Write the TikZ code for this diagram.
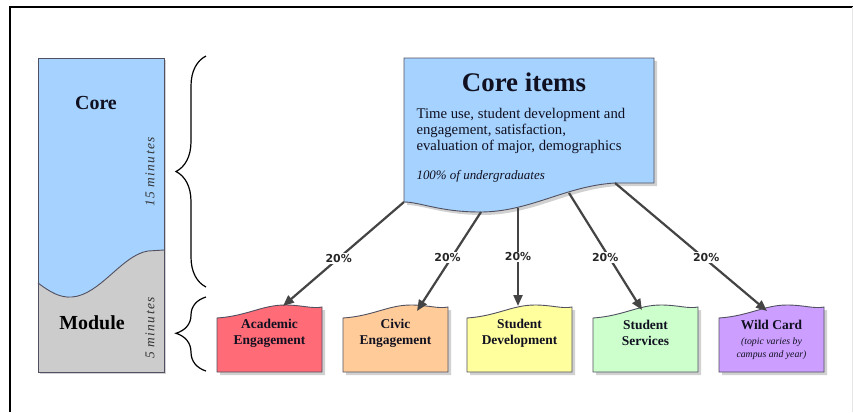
\documentclass[tikz,border=0pt]{standalone}
\usepackage{fontspec}
\setmainfont{Liberation Serif}
\newfontfamily\pctfont{DejaVu Sans}
\newfontfamily\spacedfont[LetterSpace=10]{Liberation Serif}
\usetikzlibrary{arrows.meta,decorations.pathreplacing}
\definecolor{coreblue}{HTML}{A6D2FF}
\definecolor{modgrey}{HTML}{CCCCCC}
\definecolor{acared}{HTML}{FF6B76}
\definecolor{civorange}{HTML}{FFCC99}
\definecolor{devyellow}{HTML}{FFFF9E}
\definecolor{srvgreen}{HTML}{CCFFCC}
\definecolor{wildpurple}{HTML}{CC9EFF}
\definecolor{edgegrey}{HTML}{505060}
\definecolor{arrowgrey}{HTML}{444444}
\definecolor{inkblue}{HTML}{101020}
\tikzset{
  shapeedge/.style={draw=edgegrey, line width=0.9bp},
  shadowfill/.style={fill=black, opacity=0.18},
  flowarrow/.style={draw=arrowgrey, line width=2.2bp, -{Triangle[length=11bp,width=9bp]}},
  pct/.style={fill=white, inner sep=1.2bp, font=\pctfont\bfseries\fontsize{11}{13}\selectfont, text=black!85},
  modtext/.style={align=center, font=\bfseries\fontsize{13.5}{16}\selectfont, text=inkblue},
  minutetext/.style={rotate=90, font=\spacedfont\itshape\fontsize{13.5}{15}\selectfont, text=black!80},
  bracestyle/.style={draw=black, line width=1.2bp, decorate, decoration={brace, amplitude=30bp, aspect=#1}},
}
\newcommand\modshape[1]{(#1,318) .. controls (#1+30,316) and (#1+45,305) .. (#1+68,305) .. controls (#1+85,305) and (#1+95,309) .. (#1+105,307) -- (#1+105,372) -- (#1,372) -- cycle}
\newcommand\coreshape{(404,58) -- (654,58) -- (654,183) -- (615,183) .. controls (565,186) and (530,212) .. (480,212) .. controls (440,212) and (420,202) .. (404,202) -- cycle}
\newcommand\wavepath{(38,283) .. controls (50,292) and (60,298) .. (72,297) .. controls (100,295) and (122,255) .. (148,251) -- (164,250)}
\begin{document}
\begin{tikzpicture}[x=1bp,y=-1bp]
\useasboundingbox (0,0) rectangle (853,412);
\fill[white] (0,0) rectangle (853,412);
% frame
\draw[line width=1.6bp] (10,412) -- (10,7) -- (853,7);
\draw[black!10, line width=1bp] (852,7) -- (852,412);

% left bar
\fill[shadowfill] (40,60) rectangle (166,374);
\fill[coreblue] (38,58) rectangle (164,372);
\fill[modgrey] \wavepath -- (164,372) -- (38,372) -- cycle;
\draw[edgegrey, line width=0.9bp] \wavepath;
\draw[shapeedge] (38,58) rectangle (164,372);
\node[font=\bfseries\fontsize{20}{24}\selectfont, text=inkblue] (coretitle) at (96,103) {Core};
\node[font=\bfseries\fontsize{20}{24}\selectfont, text=black] (moduletitle) at (92,323) {Module};
\node[minutetext] (fifteen) at (150,172) {15 minutes};
\node[minutetext] (five) at (150,328) {5 minutes};

% braces
\coordinate (b1s) at (206,287);
\coordinate (b1e) at (206,56);
\coordinate (b2s) at (206,371);
\coordinate (b2e) at (206,297);
\draw[bracestyle=0.5] (b1s) -- (b1e);
\draw[bracestyle=0.51] (b2s) -- (b2e);

% core items box
\begin{scope}[shift={(3,3)}]
\fill[shadowfill] \coreshape;
\end{scope}
\path[fill=coreblue, shapeedge] \coreshape;
\node[font=\bfseries\fontsize{27}{30}\selectfont, text=inkblue] (coreitems) at (524,82) {Core items};
\node[anchor=west, align=left, font=\fontsize{14.8}{16.2}\selectfont, text=inkblue] (coredesc) at (413,131)
  {Time use, student development and\\engagement, satisfaction,\\evaluation of major, demographics};
\node[anchor=west, font=\itshape\fontsize{13}{15}\selectfont, text=inkblue] (coreall) at (413,176) {100\% of undergraduates};

% module boxes
\foreach \x/\c in {217/acared, 343/civorange, 467/devyellow, 593/srvgreen, 719/wildpurple}{
  \begin{scope}[shift={(3,3)}]
  \fill[shadowfill] \modshape{\x};
  \end{scope}
  \path[fill=\c, shapeedge] \modshape{\x};
}
\node[modtext] (aca) at (269.5,333) {Academic\\Engagement};
\node[modtext] (civ) at (395.5,333) {Civic\\Engagement};
\node[modtext] (dev) at (519.5,333) {Student\\Development};
\node[modtext] (srv) at (645.5,333) {Student\\Services};
\node[modtext] (wild) at (771.5,325) {Wild Card};
\node[align=center, font=\itshape\fontsize{9.8}{13}\selectfont, text=inkblue] (wildnote) at (771.5,348.5) {(topic varies by\\campus and year)};

% connector endpoints
\coordinate (s1) at (404,202);
\coordinate (s2) at (481,212);
\coordinate (s3) at (518,208);
\coordinate (s4) at (569,193);
\coordinate (s5) at (615,183);
\coordinate (t1) at (283,306);
\coordinate (t2) at (417,311);
\coordinate (t3) at (518,306);
\coordinate (t4) at (642,310);
\coordinate (t5) at (767,311);

\draw[flowarrow] (s1) -- node[pct, pos=0.54] (p1) {20\%} (t1);
\draw[flowarrow] (s2) -- node[pct, pos=0.46, xshift=-4bp] (p2) {20\%} (t2);
\draw[flowarrow] (s3) -- node[pct, pos=0.5] (p3) {20\%} (t3);
\draw[flowarrow] (s4) -- node[pct, pos=0.55, xshift=-4bp] (p4) {20\%} (t4);
\draw[flowarrow] (s5) -- node[pct, pos=0.58, xshift=3bp] (p5) {20\%} (t5);
\end{tikzpicture}
\end{document}
